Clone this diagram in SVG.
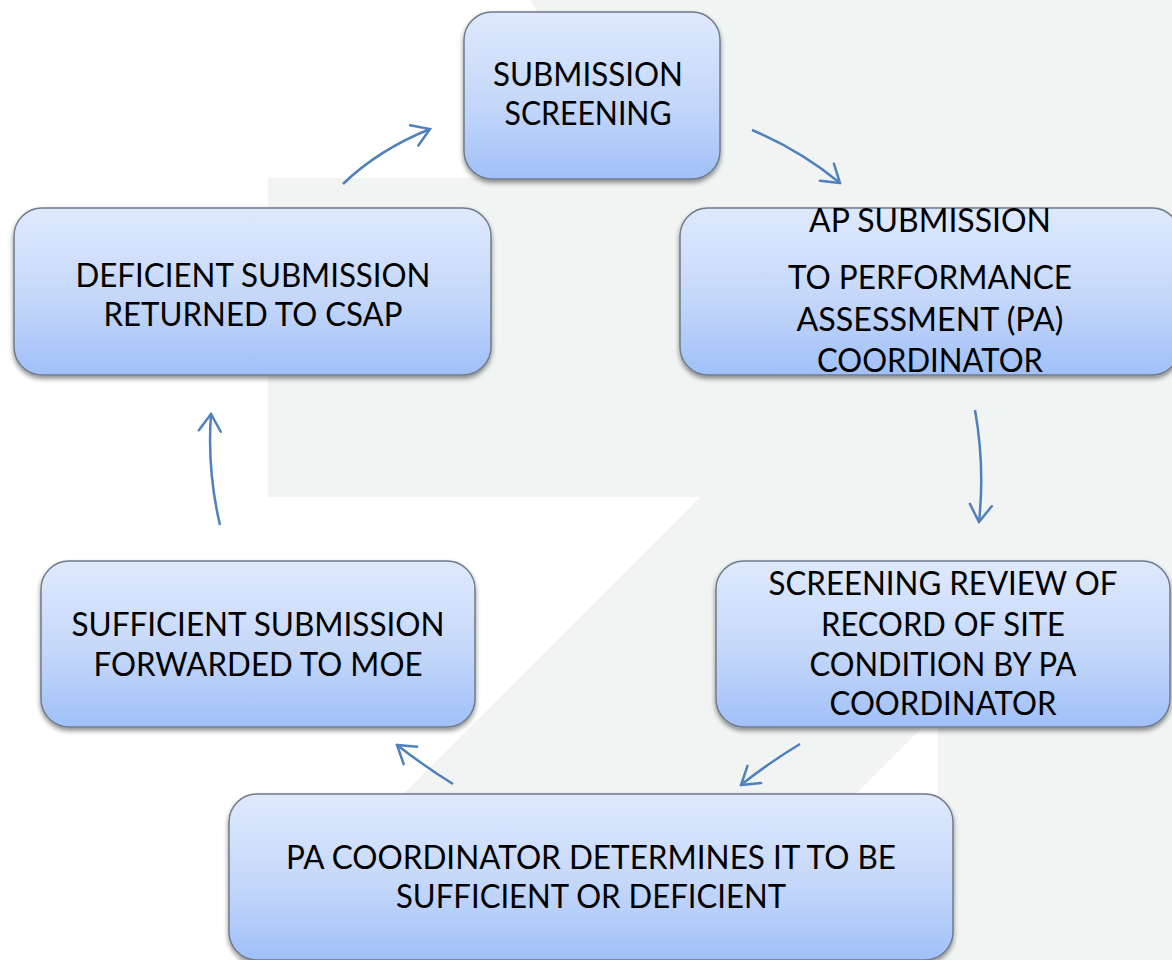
<svg xmlns="http://www.w3.org/2000/svg" width="1172" height="960" viewBox="0 0 1172 960">
  <style>
    .box { fill: url(#boxgrad); stroke: #6f7b8b; stroke-width: 1.5; filter: url(#shadow); }
    .lbl { font-family: Lato, "Liberation Sans", sans-serif; font-size: 32px; fill: #000; text-anchor: middle; }
    .conn { fill: none; stroke: #4f81bd; stroke-width: 2.5; marker-end: url(#arrow); }
  </style>
  <defs>
    <linearGradient id="boxgrad" x1="0" y1="0" x2="0" y2="1">
      <stop offset="0" stop-color="#dfe9fc"/>
      <stop offset="0.55" stop-color="#c4d7fa"/>
      <stop offset="1" stop-color="#a0c0f8"/>
    </linearGradient>
    <filter id="shadow" x="-10%" y="-10%" width="120%" height="130%">
      <feGaussianBlur in="SourceAlpha" stdDeviation="2.5"/>
      <feOffset dx="0" dy="3" result="b"/>
      <feComponentTransfer><feFuncA type="linear" slope="0.45"/></feComponentTransfer>
      <feMerge><feMergeNode/><feMergeNode in="SourceGraphic"/></feMerge>
    </filter>
    <marker id="arrow" markerUnits="userSpaceOnUse" viewBox="-20 -14 22 28" markerWidth="22" markerHeight="28" refX="0" refY="0" orient="auto">
      <path d="M-17,-11 L0,0 L-17,11" fill="none" stroke="#4f81bd" stroke-width="2.5" stroke-linecap="round" stroke-linejoin="miter"/>
    </marker>
  </defs>

  <g id="background">
    <rect x="0" y="0" width="1172" height="960" fill="#f2f4f3"/>
    <path d="M0,0 L530,0 L650,178 L268,178 L268,497 L700,497 L237,960 L0,960 Z" fill="#ffffff"/>
    <path d="M938,712 L938,960 L690,960 Z" fill="#ffffff"/>
  </g>

  <g id="connectors">
    <path class="conn" d="M343,184 Q378,150 430,129"/>
    <path class="conn" d="M752,130 Q800,150 840,183"/>
    <path class="conn" d="M975,410 Q985,466 979,522"/>
    <path class="conn" d="M800,744 Q770,762 741,785"/>
    <path class="conn" d="M453,784 Q424,766 397,745"/>
    <path class="conn" d="M220,525 Q207,470 211,414"/>
  </g>

  <g id="node-submission-screening">
    <rect class="box" x="464" y="12" width="256" height="167" rx="28"/>
    <text class="lbl" x="588" y="86" textLength="190" lengthAdjust="spacingAndGlyphs">SUBMISSION</text>
    <text class="lbl" x="588" y="125" textLength="167" lengthAdjust="spacingAndGlyphs">SCREENING</text>
  </g>

  <g id="node-ap-submission">
    <rect class="box" x="680" y="208" width="500" height="167" rx="28"/>
    <text class="lbl" x="930" y="232" textLength="242" lengthAdjust="spacingAndGlyphs">AP SUBMISSION</text>
    <text class="lbl" x="930" y="289" textLength="284" lengthAdjust="spacingAndGlyphs">TO PERFORMANCE</text>
    <text class="lbl" x="930" y="331" textLength="267" lengthAdjust="spacingAndGlyphs">ASSESSMENT (PA)</text>
    <text class="lbl" x="930" y="372" textLength="226" lengthAdjust="spacingAndGlyphs">COORDINATOR</text>
  </g>

  <g id="node-deficient">
    <rect class="box" x="14" y="208" width="477" height="167" rx="28"/>
    <text class="lbl" x="253" y="287" textLength="355" lengthAdjust="spacingAndGlyphs">DEFICIENT SUBMISSION</text>
    <text class="lbl" x="253" y="326" textLength="299" lengthAdjust="spacingAndGlyphs">RETURNED TO CSAP</text>
  </g>

  <g id="node-sufficient">
    <rect class="box" x="41" y="561" width="434" height="166" rx="28"/>
    <text class="lbl" x="258" y="636" textLength="373" lengthAdjust="spacingAndGlyphs">SUFFICIENT SUBMISSION</text>
    <text class="lbl" x="258" y="676" textLength="329" lengthAdjust="spacingAndGlyphs">FORWARDED TO MOE</text>
  </g>

  <g id="node-screening-review">
    <rect class="box" x="716" y="561" width="454" height="166" rx="28"/>
    <text class="lbl" x="943" y="595" textLength="349" lengthAdjust="spacingAndGlyphs">SCREENING REVIEW OF</text>
    <text class="lbl" x="943" y="636" textLength="244" lengthAdjust="spacingAndGlyphs">RECORD OF SITE</text>
    <text class="lbl" x="943" y="676" textLength="267" lengthAdjust="spacingAndGlyphs">CONDITION BY PA</text>
    <text class="lbl" x="943" y="715" textLength="227" lengthAdjust="spacingAndGlyphs">COORDINATOR</text>
  </g>

  <g id="node-pa-determines">
    <rect class="box" x="229" y="794" width="724" height="166" rx="28"/>
    <text class="lbl" x="591" y="869" textLength="610" lengthAdjust="spacingAndGlyphs">PA COORDINATOR DETERMINES IT TO BE</text>
    <text class="lbl" x="591" y="908" textLength="390" lengthAdjust="spacingAndGlyphs">SUFFICIENT OR DEFICIENT</text>
  </g>
</svg>
